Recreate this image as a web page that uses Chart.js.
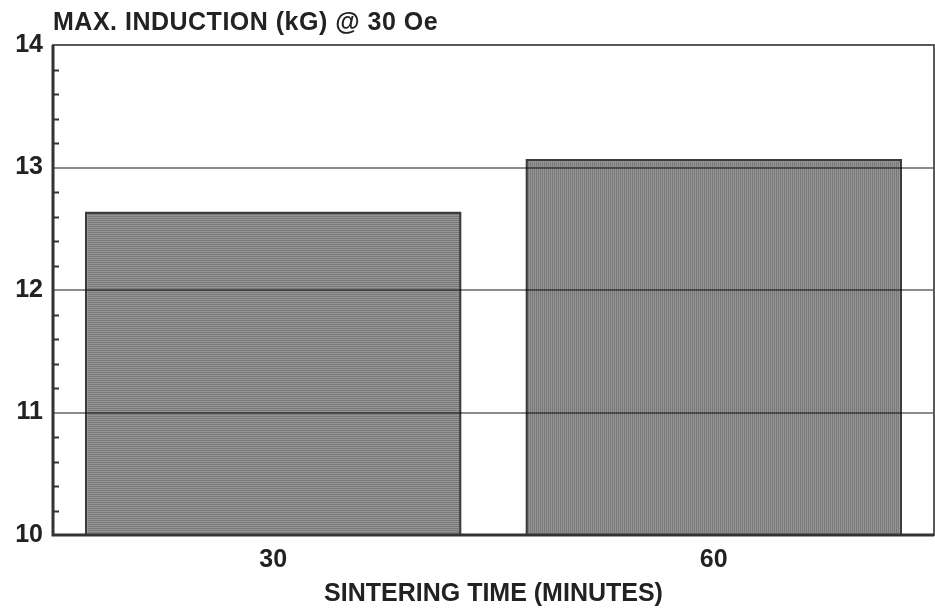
<!DOCTYPE html>
<html>
<head>
<meta charset="utf-8">
<script src="https://cdn.jsdelivr.net/npm/chart.js@4"></script>
<style>
  html, body { margin: 0; padding: 0; background: #fff; }
  #wrap { width: 935px; height: 609px; }
</style>
</head>
<body>
<div id="wrap"><canvas id="chart" width="935" height="609"></canvas></div>
<script>
// data
var categories = ['30', '60'];
var inductionValues = [12.64, 13.07];
var yTickValues = [10, 11, 12, 13, 14];

var chartTitle = 'MAX. INDUCTION (kG) @ 30 Oe';
var xAxisTitle = 'SINTERING TIME (MINUTES)';

var fontFamily = '"Liberation Sans", Arial, sans-serif';

function stripePattern(vertical) {
    var c = document.createElement('canvas');
    c.width = 4; c.height = 4;
    var g = c.getContext('2d');
    g.fillStyle = '#949494';
    g.fillRect(0, 0, 4, 4);
    g.fillStyle = '#7a7a7a';
    if (vertical) { g.fillRect(0, 0, 1, 4); g.fillRect(2, 0, 1, 4); }
    else { g.fillRect(0, 0, 4, 1); g.fillRect(0, 2, 4, 1); }
    return g.createPattern(c, 'repeat');
}

var framePlugin = {
    id: 'frame',
    afterDraw: function (chart) {
        var ctx = chart.ctx, a = chart.chartArea, y = chart.scales.y;
        ctx.save();
        // minor ticks on the left axis
        ctx.strokeStyle = '#333';
        ctx.lineWidth = 2;
        for (var v = y.min; v < y.max - 1e-6; v += 0.2) {
            if (Math.abs(v - Math.round(v)) < 1e-6) continue;
            var py = Math.round(y.getPixelForValue(v)) + 0.5;
            ctx.beginPath();
            ctx.moveTo(a.left, py);
            ctx.lineTo(a.left + 6, py);
            ctx.stroke();
        }
        // plot frame
        ctx.strokeStyle = '#5a5a5a';
        ctx.lineWidth = 2;
        ctx.strokeRect(a.left, a.top, a.right - a.left, a.bottom - a.top);
        ctx.strokeStyle = '#333';
        ctx.lineWidth = 3;
        ctx.beginPath();
        ctx.moveTo(a.left, a.top);
        ctx.lineTo(a.left, a.bottom);
        ctx.lineTo(a.right, a.bottom);
        ctx.stroke();
        // title
        ctx.fillStyle = '#222';
        ctx.font = 'bold 25px ' + fontFamily;
        ctx.letterSpacing = '0.5px';
        ctx.textBaseline = 'middle';
        ctx.textAlign = 'left';
        ctx.fillText(chartTitle, a.left, 23);
        ctx.restore();
    }
};

var ctx = document.getElementById('chart').getContext('2d');
new Chart(ctx, {
    type: 'bar',
    data: {
        labels: categories,
        datasets: [{
            data: inductionValues,
            backgroundColor: [stripePattern(false), stripePattern(true)],
            borderColor: '#3c3c3c',
            borderWidth: 2.5,
            borderSkipped: false,
            categoryPercentage: 1,
            barPercentage: 0.855
        }]
    },
    options: {
        responsive: false,
        animation: false,
        layout: { padding: { top: 45, right: 1, left: 0, bottom: 0 } },
        plugins: {
            legend: { display: false },
            tooltip: { enabled: false }
        },
        scales: {
            x: {
                grid: { display: false },
                border: { display: false },
                ticks: {
                    color: '#222',
                    font: { family: fontFamily, size: 25, weight: 'bold' },
                    padding: 2
                },
                title: {
                    display: true,
                    text: xAxisTitle,
                    color: '#222',
                    font: { family: fontFamily, size: 25, weight: 'bold' },
                    padding: { top: 4, bottom: 0 }
                },
                afterFit: function (s) { s.height = 74; }
            },
            y: {
                min: 10,
                max: 14,
                afterBuildTicks: function (s) {
                    s.ticks = yTickValues.map(function (v) { return { value: v }; });
                },
                grid: {
                    color: 'rgba(0,0,0,0.45)',
                    lineWidth: 2,
                    drawTicks: false,
                    z: 1
                },
                border: { display: false },
                ticks: {
                    color: '#222',
                    font: { family: fontFamily, size: 25, weight: 'bold' },
                    padding: 10
                },
                afterFit: function (s) { s.width = 53; }
            }
        }
    },
    plugins: [framePlugin]
});
</script>
</body>
</html>
